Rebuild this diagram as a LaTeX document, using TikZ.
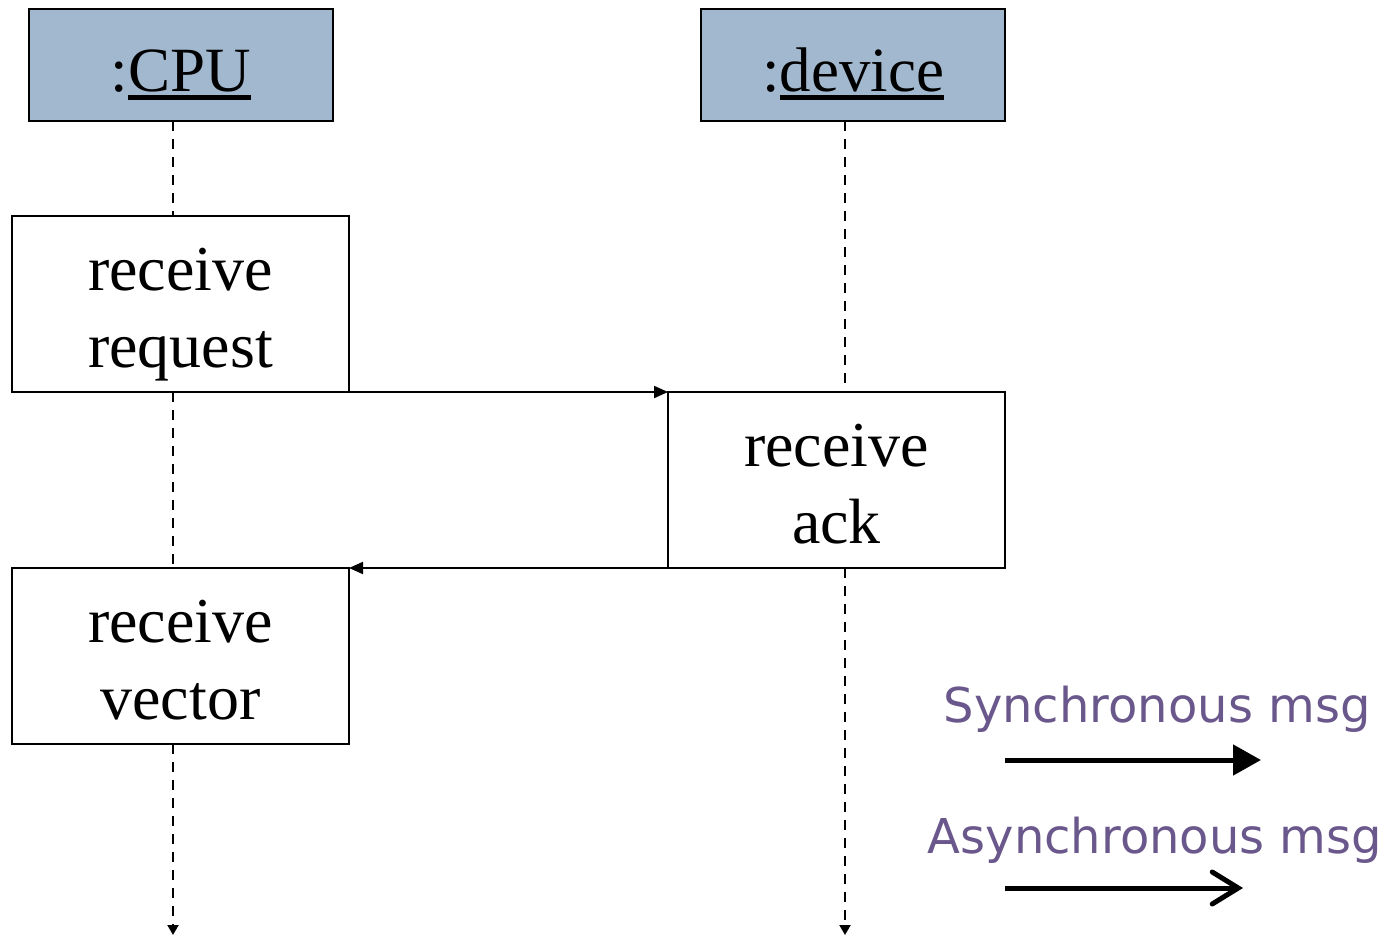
\documentclass[tikz,border=0pt]{standalone}
\usepackage{fontspec}
\setmainfont{Liberation Serif}
\newfontfamily\legendfont{DejaVu Sans}
\usetikzlibrary{arrows.meta}
\definecolor{objfill}{RGB}{161,184,206}
\definecolor{legendcol}{RGB}{106,88,140}
\newcommand{\objname}[1]{\setbox0\hbox{#1}\rlap{\smash{\raisebox{-8.5pt}{\rule{\wd0}{4.2pt}}}}\box0}
\newcommand{\acttext}[2]{\begin{tabular}{@{}c@{}}\rule{0pt}{73pt}#1\\#2\end{tabular}}
\tikzset{
  objbox/.style={draw, line width=2pt, outer sep=0pt, fill=objfill, minimum width=304pt, minimum height=112pt, inner sep=0pt,
    font=\fontsize{63}{70}\selectfont},
  actbox/.style={draw, line width=2pt, outer sep=0pt, fill=white, minimum width=337pt, minimum height=176pt, inner sep=0pt,
    font=\fontsize{64}{77}\selectfont},
  life/.style={line width=2pt, dash pattern=on 10pt off 8pt},
  lifeend/.style={life, -{Triangle[length=10pt,width=11pt]}},
  msgarrow/.style={line width=2pt, -{Triangle[length=14pt,width=12pt]}},
  legendtext/.style={text=legendcol, font=\legendfont\fontsize{48}{54}\selectfont, inner sep=0pt},
  syncarrow/.style={line width=5pt, -{Triangle[length=28pt,width=30pt]}},
  asyncarrow/.style={line width=5pt, -{Straight Barb[length=26pt,width=32pt,line cap=round]}},
}
\begin{document}
\begin{tikzpicture}[x=1pt,y=-1pt]
\useasboundingbox (0,0) rectangle (1389,937);
% objects
\node[objbox] (cpu) at (181,65) {};
\node[objbox] (dev) at (853,65) {};
\node[font=\fontsize{63}{70}\selectfont, inner sep=0pt, anchor=base] (cpuname) at (181,91) {:\objname{CPU}};
\node[font=\fontsize{63}{70}\selectfont, inner sep=0pt, anchor=base] (devname) at (853,91) {:\objname{device}};
% activations
\node[actbox] (req) at (180.5,304) {\acttext{receive}{request}};
\node[actbox] (ack) at (836.5,480) {\acttext{receive}{ack}};
\node[actbox] (vec) at (180.5,656) {\acttext{receive}{vector}};
% lifeline ends
\coordinate (cpuEnd) at (173,935);
\coordinate (devEnd) at (845,935);
% lifelines
\draw[life] (cpu.south -| cpuEnd) -- (req.north -| cpuEnd);
\draw[life] (req.south -| cpuEnd) -- (vec.north -| cpuEnd);
\draw[lifeend] (vec.south -| cpuEnd) -- (cpuEnd);
\draw[life] (dev.south -| devEnd) -- (ack.north -| devEnd);
\draw[lifeend] (ack.south -| devEnd) -- (devEnd);
% messages
\draw[msgarrow] (req.south east) -- (ack.north west);
\draw[msgarrow] (ack.south west) -- (vec.north east);
% legend
\node[legendtext] (sync) at (1157,709) {Synchronous msg};
\node[legendtext] (async) at (1155,840) {Asynchronous msg};
\coordinate (s1) at (1005,760);
\coordinate (s2) at (1261,760);
\coordinate (a1) at (1005,888);
\coordinate (a2) at (1243,888);
\draw[syncarrow] (s1) -- (s2);
\draw[asyncarrow] (a1) -- (a2);
\end{tikzpicture}
\end{document}
